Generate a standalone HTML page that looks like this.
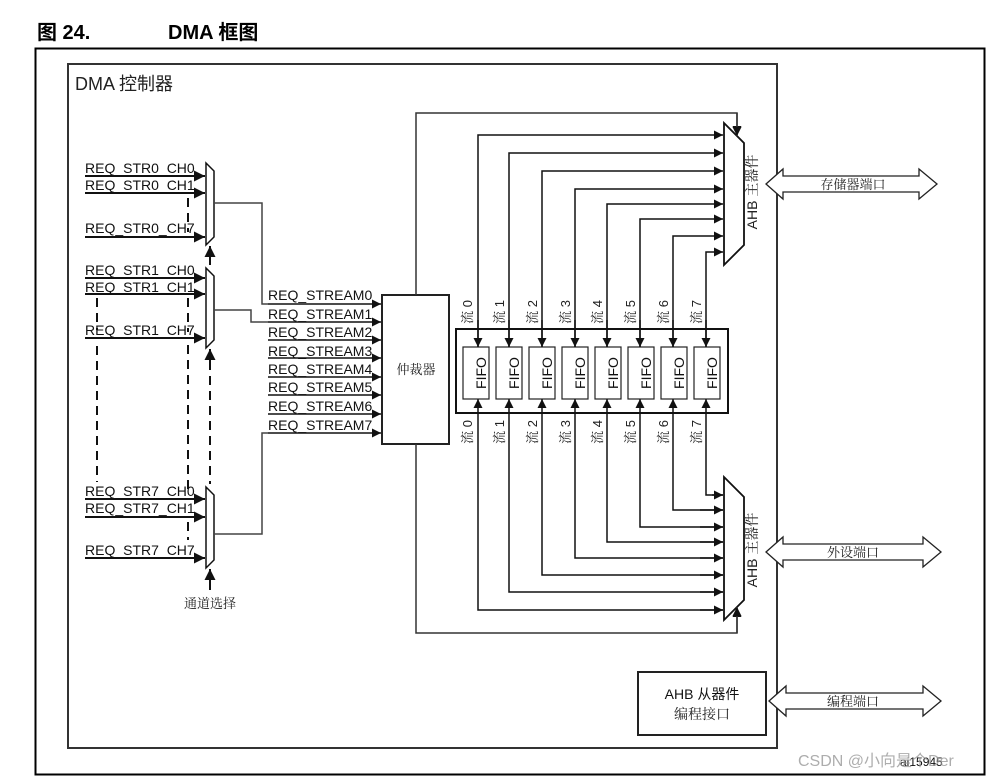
<!DOCTYPE html>
<html><head><meta charset="utf-8"><style>
html,body{margin:0;padding:0;background:#fff;}
svg{display:block;font-family:"Liberation Sans","Noto Sans CJK SC",sans-serif;}
.t{font-size:14px;fill:#111;}
.s{font-family:"Liberation Sans","Noto Serif CJK SC",sans-serif;font-size:13px;fill:#222;}
.c{font-family:"Noto Serif CJK SC","Noto Sans CJK SC",serif;font-size:13px;fill:#222;}
</style></head><body>
<svg width="996" height="779" viewBox="0 0 996 779" xmlns="http://www.w3.org/2000/svg">
<defs>
<marker id="a" viewBox="0 0 10 10" refX="10" refY="5" markerWidth="9" markerHeight="9" markerUnits="userSpaceOnUse" orient="auto"><path d="M0,0L10,5L0,10z" fill="#111"/></marker>
<marker id="b" viewBox="0 0 10 10" refX="10" refY="5" markerWidth="11" markerHeight="11" markerUnits="userSpaceOnUse" orient="auto"><path d="M0,0L10,5L0,10z" fill="#111"/></marker>
</defs>
<text x="37" y="39" style="font-size:20px;font-weight:bold;font-family:'Liberation Sans','Noto Sans CJK SC',sans-serif">图 24.</text>
<text x="168" y="39" style="font-size:20px;font-weight:bold;font-family:'Liberation Sans','Noto Sans CJK SC',sans-serif">DMA 框图</text>
<rect x="35.5" y="48.5" width="949" height="726" fill="none" stroke="#000" stroke-width="2"/>
<rect x="68" y="64" width="709" height="684" fill="none" stroke="#333" stroke-width="2"/>
<text x="75" y="90" style="font-size:18px;fill:#222">DMA 控制器</text>

<g stroke="#111" stroke-width="2" fill="none">
<line x1="85" y1="176" x2="205" y2="176" marker-end="url(#b)"/>
<line x1="85" y1="193" x2="205" y2="193" marker-end="url(#b)"/>
<line x1="85" y1="237" x2="205" y2="237" marker-end="url(#b)"/>
<line x1="85" y1="278" x2="205" y2="278" marker-end="url(#b)"/>
<line x1="85" y1="294" x2="205" y2="294" marker-end="url(#b)"/>
<line x1="85" y1="338" x2="205" y2="338" marker-end="url(#b)"/>
<line x1="85" y1="499" x2="205" y2="499" marker-end="url(#b)"/>
<line x1="85" y1="517" x2="205" y2="517" marker-end="url(#b)"/>
<line x1="85" y1="558" x2="205" y2="558" marker-end="url(#b)"/>
<line x1="210" y1="265" x2="210" y2="246" marker-end="url(#b)"/>
<line x1="210" y1="370" x2="210" y2="349" marker-end="url(#b)"/>
<line x1="210" y1="590" x2="210" y2="569" marker-end="url(#b)"/>
</g>
<g stroke="#111" stroke-width="2" stroke-dasharray="9,6" fill="none">
<line x1="97" y1="298" x2="97" y2="330"/>
<line x1="97" y1="346" x2="97" y2="482"/>
<line x1="188" y1="198" x2="188" y2="232"/>
<line x1="188" y1="298" x2="188" y2="332"/>
<line x1="188" y1="345" x2="188" y2="494"/>
<line x1="188" y1="522" x2="188" y2="540"/>
<line x1="210" y1="250" x2="210" y2="264"/>
<line x1="210" y1="376" x2="210" y2="484"/>
</g>
<g fill="#fff" stroke="#111" stroke-width="1.5">
<polygon points="206,163 214,171 214,237 206,245"/>
<polygon points="206,268 214,276 214,340 206,348"/>
<polygon points="206,487 214,495 214,560 206,568"/>
</g>
<g class="t">
<text x="85" y="173">REQ_STR0_CH0</text>
<text x="85" y="190">REQ_STR0_CH1</text>
<text x="85" y="233">REQ_STR0_CH7</text>
<text x="85" y="275">REQ_STR1_CH0</text>
<text x="85" y="292">REQ_STR1_CH1</text>
<text x="85" y="335">REQ_STR1_CH7</text>
<text x="85" y="496">REQ_STR7_CH0</text>
<text x="85" y="513">REQ_STR7_CH1</text>
<text x="85" y="555">REQ_STR7_CH7</text>
</g>
<text x="210" y="608" text-anchor="middle" class="c">通道选择</text>

<g stroke="#444" stroke-width="1.5" fill="none">
<polyline points="214,203 262,203 262,304 268,304"/>
<polyline points="214,310 251,310 251,322 268,322"/>
<polyline points="214,534 262,534 262,433 268,433"/>
</g>
<g stroke="#111" stroke-width="1.5" fill="none">
<line x1="268" y1="304" x2="381" y2="304" marker-end="url(#a)"/>
<line x1="268" y1="322" x2="381" y2="322" marker-end="url(#a)"/>
<line x1="268" y1="340" x2="381" y2="340" marker-end="url(#a)"/>
<line x1="268" y1="358" x2="381" y2="358" marker-end="url(#a)"/>
<line x1="268" y1="377" x2="381" y2="377" marker-end="url(#a)"/>
<line x1="268" y1="395" x2="381" y2="395" marker-end="url(#a)"/>
<line x1="268" y1="414" x2="381" y2="414" marker-end="url(#a)"/>
<line x1="268" y1="433" x2="381" y2="433" marker-end="url(#a)"/>
</g>
<g class="t">
<text x="268" y="300">REQ_STREAM0</text>
<text x="268" y="319">REQ_STREAM1</text>
<text x="268" y="337">REQ_STREAM2</text>
<text x="268" y="356">REQ_STREAM3</text>
<text x="268" y="374">REQ_STREAM4</text>
<text x="268" y="392">REQ_STREAM5</text>
<text x="268" y="411">REQ_STREAM6</text>
<text x="268" y="430">REQ_STREAM7</text>
</g>
<rect x="382" y="295" width="67" height="149" fill="#fff" stroke="#222" stroke-width="2"/>
<text x="416" y="374" text-anchor="middle" class="c">仲裁器</text>

<g stroke="#333" stroke-width="1.5" fill="none">
<polyline points="416,295 416,113 737,113 737,135" marker-end="url(#a)"/>
<polyline points="416,444 416,633 737,633 737,608" marker-end="url(#a)"/>
</g>

<rect x="456" y="329" width="272" height="84" fill="#fff" stroke="#111" stroke-width="2"/>
<g fill="#fff" stroke="#222" stroke-width="1.2">
<rect x="463" y="347" width="26" height="52"/>
<rect x="496" y="347" width="26" height="52"/>
<rect x="529" y="347" width="26" height="52"/>
<rect x="562" y="347" width="26" height="52"/>
<rect x="595" y="347" width="26" height="52"/>
<rect x="628" y="347" width="26" height="52"/>
<rect x="661" y="347" width="26" height="52"/>
<rect x="694" y="347" width="26" height="52"/>
</g>
<g class="t" text-anchor="middle">
<text transform="translate(481,373) rotate(-90)" y="5">FIFO</text>
<text transform="translate(514,373) rotate(-90)" y="5">FIFO</text>
<text transform="translate(547,373) rotate(-90)" y="5">FIFO</text>
<text transform="translate(580,373) rotate(-90)" y="5">FIFO</text>
<text transform="translate(613,373) rotate(-90)" y="5">FIFO</text>
<text transform="translate(646,373) rotate(-90)" y="5">FIFO</text>
<text transform="translate(679,373) rotate(-90)" y="5">FIFO</text>
<text transform="translate(712,373) rotate(-90)" y="5">FIFO</text>
</g>

<g stroke="#111" stroke-width="1.5" fill="none">
<polyline points="478,347 478,135 723,135" marker-end="url(#a)"/>
<polyline points="509,347 509,153 723,153" marker-end="url(#a)"/>
<polyline points="542,347 542,171 723,171" marker-end="url(#a)"/>
<polyline points="575,347 575,189 723,189" marker-end="url(#a)"/>
<polyline points="607,347 607,204 723,204" marker-end="url(#a)"/>
<polyline points="640,347 640,219 723,219" marker-end="url(#a)"/>
<polyline points="673,347 673,236 723,236" marker-end="url(#a)"/>
<polyline points="706,347 706,252 723,252" marker-end="url(#a)"/>
<line x1="478" y1="320" x2="478" y2="347" marker-end="url(#a)"/>
<line x1="509" y1="320" x2="509" y2="347" marker-end="url(#a)"/>
<line x1="542" y1="320" x2="542" y2="347" marker-end="url(#a)"/>
<line x1="575" y1="320" x2="575" y2="347" marker-end="url(#a)"/>
<line x1="607" y1="320" x2="607" y2="347" marker-end="url(#a)"/>
<line x1="640" y1="320" x2="640" y2="347" marker-end="url(#a)"/>
<line x1="673" y1="320" x2="673" y2="347" marker-end="url(#a)"/>
<line x1="706" y1="320" x2="706" y2="347" marker-end="url(#a)"/>
<polyline points="723,610 478,610 478,399" marker-end="url(#a)"/>
<polyline points="723,592 509,592 509,399" marker-end="url(#a)"/>
<polyline points="723,575 542,575 542,399" marker-end="url(#a)"/>
<polyline points="723,558 575,558 575,399" marker-end="url(#a)"/>
<polyline points="723,542 607,542 607,399" marker-end="url(#a)"/>
<polyline points="723,527 640,527 640,399" marker-end="url(#a)"/>
<polyline points="723,510 673,510 673,399" marker-end="url(#a)"/>
<polyline points="723,495 706,495 706,399" marker-end="url(#a)"/>
<line x1="700" y1="610" x2="723" y2="610" marker-end="url(#a)"/>
<line x1="700" y1="592" x2="723" y2="592" marker-end="url(#a)"/>
<line x1="700" y1="575" x2="723" y2="575" marker-end="url(#a)"/>
<line x1="700" y1="558" x2="723" y2="558" marker-end="url(#a)"/>
<line x1="700" y1="542" x2="723" y2="542" marker-end="url(#a)"/>
<line x1="700" y1="527" x2="723" y2="527" marker-end="url(#a)"/>
<line x1="700" y1="510" x2="723" y2="510" marker-end="url(#a)"/>
<line x1="712" y1="495" x2="723" y2="495" marker-end="url(#a)"/>
</g>
<g class="s" text-anchor="middle">
<text transform="translate(472,312) rotate(-90)">流 0</text>
<text transform="translate(504,312) rotate(-90)">流 1</text>
<text transform="translate(537,312) rotate(-90)">流 2</text>
<text transform="translate(570,312) rotate(-90)">流 3</text>
<text transform="translate(602,312) rotate(-90)">流 4</text>
<text transform="translate(635,312) rotate(-90)">流 5</text>
<text transform="translate(668,312) rotate(-90)">流 6</text>
<text transform="translate(701,312) rotate(-90)">流 7</text>
<text transform="translate(472,432) rotate(-90)">流 0</text>
<text transform="translate(504,432) rotate(-90)">流 1</text>
<text transform="translate(537,432) rotate(-90)">流 2</text>
<text transform="translate(570,432) rotate(-90)">流 3</text>
<text transform="translate(602,432) rotate(-90)">流 4</text>
<text transform="translate(635,432) rotate(-90)">流 5</text>
<text transform="translate(668,432) rotate(-90)">流 6</text>
<text transform="translate(701,432) rotate(-90)">流 7</text>
</g>

<g fill="#fff" stroke="#111" stroke-width="1.8">
<polygon points="724,123 744,143 744,245 724,265"/>
<polygon points="724,477 744,497 744,600 724,620"/>
</g>
<g stroke="#333" stroke-width="1.5" fill="none">
<line x1="737" y1="113" x2="737" y2="136" marker-end="url(#a)"/>
<line x1="737" y1="633" x2="737" y2="607" marker-end="url(#a)"/>
</g>
<text transform="translate(757,192) rotate(-90)" text-anchor="middle" class="s" style="font-size:14px">AHB 主器件</text>
<text transform="translate(757,550) rotate(-90)" text-anchor="middle" class="s" style="font-size:14px">AHB 主器件</text>

<g fill="#fff" stroke="#222" stroke-width="1.3">
<polygon points="766,184 783,169 783,176 919,176 919,169 937,184 919,199 919,192 783,192 783,199"/>
<polygon points="766,552 783,537 783,544 923,544 923,537 941,552 923,567 923,560 783,560 783,567"/>
<polygon points="769,701 786,686 786,693 923,693 923,686 941,701 923,716 923,709 786,709 786,716"/>
</g>
<text x="853" y="189" text-anchor="middle" class="c">存储器端口</text>
<text x="853" y="557" text-anchor="middle" class="c">外设端口</text>
<text x="853" y="706" text-anchor="middle" class="c">编程端口</text>

<rect x="638" y="672" width="128" height="63" fill="#fff" stroke="#222" stroke-width="2"/>
<text x="702" y="699" text-anchor="middle" style="font-size:14px;fill:#111">AHB 从器件</text>
<text x="702" y="719" text-anchor="middle" class="c" style="font-size:14px">编程接口</text>

<text x="900" y="766" style="font-size:12px;fill:#111">ai15945</text>
<text x="798" y="766" style="font-size:16px;fill:#999;opacity:0.8">CSDN @小向是个Der</text>
</svg>
</body></html>
